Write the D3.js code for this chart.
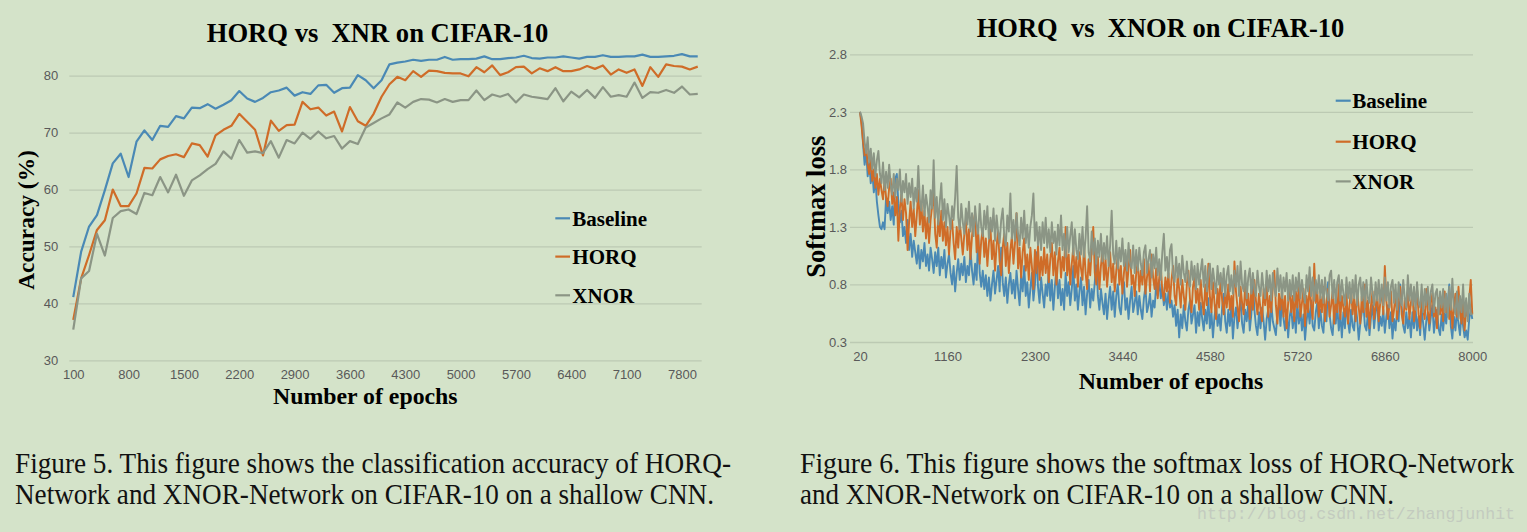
<!DOCTYPE html>
<html><head><meta charset="utf-8">
<script src="https://cdn.jsdelivr.net/npm/d3@7"></script>
<style>
html,body{margin:0;padding:0;background:#d4e3c9;}
svg{display:block;}
</style></head><body>
<svg id="c" width="1527" height="532"></svg>
<script>
// ---------- Figure 5 data (accuracy) ----------
const accEpochs = d3.range(100, 8001, 100);
const accBaseline = [41.1,49.1,53.5,55.5,59.9,64.6,66.3,62.2,68.4,70.4,
68.7,71.2,71.0,72.9,72.5,74.4,74.3,75.0,74.2,74.9,
75.7,77.3,76.0,75.4,76.1,77.1,77.4,77.9,76.5,77.1,
76.8,78.3,78.4,77.0,77.8,77.9,80.1,79.2,77.8,79.2,
82.0,82.3,82.5,82.8,82.6,82.8,82.8,83.3,82.8,82.9,
82.9,83.0,83.4,82.9,82.9,83.1,83.2,83.5,83.1,83.0,
83.2,83.2,83.4,83.2,83.0,83.3,83.3,83.6,83.3,83.3,
83.4,83.4,83.7,83.3,83.3,83.4,83.5,83.8,83.4,83.4];
const accHORQ = [37.1,44.4,48.5,52.9,54.6,60.0,57.1,57.1,59.3,63.8,
63.7,65.3,65.9,66.2,65.7,68.1,67.8,65.8,69.5,70.5,
71.2,73.3,71.9,70.5,66.0,72.1,70.3,71.3,71.4,75.4,
74.1,74.4,73.0,73.7,70.2,74.5,72.0,71.2,73.3,76.3,
78.5,79.8,79.2,80.8,79.8,80.9,80.8,80.5,80.4,80.4,
79.9,81.5,80.6,81.8,80.1,80.6,81.5,81.6,80.4,81.3,
80.8,81.5,80.8,80.8,81.1,81.7,81.2,81.8,80.2,81.1,
80.5,81.1,78.2,81.5,79.8,82.0,81.7,81.6,81.1,81.6];
const accXNOR = [35.4,44.4,45.7,52.2,48.4,55.0,56.2,56.5,55.7,59.4,
59.0,62.2,59.5,62.6,58.9,61.6,62.5,63.6,64.5,66.7,
65.4,68.7,66.5,66.7,66.4,68.5,65.6,68.7,68.1,70.0,
68.9,70.2,69.0,69.4,67.2,68.5,68.0,70.9,71.7,72.5,
73.2,75.3,74.4,75.4,75.9,75.8,75.3,75.9,75.4,75.7,
75.7,77.4,75.7,76.7,76.3,76.8,75.3,76.7,76.3,76.1,
75.9,77.8,75.5,77.2,76.2,77.5,76.1,78.0,76.3,76.6,
76.3,78.8,76.1,77.1,77.0,77.5,77.0,78.1,76.7,76.8];
const accTicksX = [100,800,1500,2200,2900,3600,4300,5000,5700,6400,7100,7800];
const accTicksY = [30,40,50,60,70,80];

// ---------- Figure 6 data (softmax loss) ----------
const lossEpochs = d3.range(20, 8001, 20);
const lossBaseline = [
2.30,2.22,2.02,1.84,1.96,1.74,1.86,1.68,1.78,1.60,1.72,1.52,1.40,1.30,1.28,1.34,1.28,1.56,1.42,1.52,
1.36,1.48,1.32,1.72,1.76,1.50,1.34,1.44,1.22,1.30,1.16,1.36,1.10,1.24,1.04,1.18,1.08,0.98,1.14,0.94,
1.10,1.00,1.16,0.96,1.06,0.92,1.12,1.02,0.90,1.08,0.96,1.12,0.88,1.04,0.94,1.10,0.86,0.98,1.06,0.90,
0.80,0.96,0.74,0.90,1.02,0.84,0.98,0.88,1.04,0.82,0.96,0.88,1.10,0.92,0.80,0.98,0.84,1.24,0.90,0.78,
0.92,0.76,0.88,0.70,0.86,0.66,0.80,0.92,0.72,0.84,0.96,0.74,1.12,0.82,0.70,0.86,0.64,0.80,0.90,0.72,
0.84,0.68,0.92,0.76,0.62,0.88,0.74,0.96,0.70,0.82,0.60,0.76,0.90,0.66,0.80,1.08,0.78,0.64,0.86,0.72,
0.60,0.80,0.70,0.92,0.66,0.84,0.58,0.78,0.94,0.68,0.84,0.62,0.76,0.58,0.90,0.70,0.82,0.62,0.76,0.96,
0.66,0.80,0.58,0.74,0.86,0.62,0.78,0.54,0.72,0.84,0.60,0.76,0.66,0.82,1.04,0.70,0.58,0.76,0.64,0.54,
0.72,0.50,0.66,0.78,0.58,0.74,0.52,0.70,0.80,0.60,0.54,0.72,0.82,0.58,0.68,0.50,0.66,0.78,0.56,0.64,
0.74,0.54,0.70,0.58,0.50,0.68,0.78,0.56,0.62,0.72,0.52,0.66,0.60,0.80,0.70,0.84,0.68,0.78,0.62,0.72,
0.58,0.74,0.60,0.66,0.52,0.62,0.44,0.58,0.34,0.54,0.42,0.62,0.48,0.40,0.58,0.66,0.46,0.54,0.62,0.38,
0.56,0.44,0.64,0.50,0.40,0.58,0.46,0.68,0.42,0.56,0.34,0.52,0.62,0.44,0.54,0.40,0.60,0.72,0.48,0.38,
0.58,0.44,0.62,0.33,0.52,0.60,0.42,0.56,0.66,0.46,0.38,0.58,0.48,0.64,0.40,0.54,0.82,0.58,0.44,0.36,
0.56,0.42,0.60,0.48,0.32,0.50,0.58,0.40,0.64,0.48,0.42,0.36,0.56,0.62,0.44,0.68,0.50,0.40,0.58,0.34,
0.52,0.60,0.42,0.56,0.38,0.64,0.46,0.58,0.40,0.54,0.32,0.48,0.60,0.46,0.66,0.44,0.40,0.56,0.64,0.42,
0.58,0.44,0.38,0.62,0.48,0.82,0.54,0.42,0.36,0.58,0.46,0.62,0.40,0.54,0.34,0.56,0.42,0.64,0.48,0.38,
0.58,0.44,0.40,0.62,0.50,0.32,0.46,0.56,0.64,0.44,0.40,0.56,0.36,0.52,0.62,0.42,0.56,0.68,0.40,0.52,
0.44,0.58,0.38,0.52,0.62,0.42,0.56,0.33,0.50,0.40,0.58,0.48,0.80,0.60,0.44,0.38,0.56,0.42,0.52,0.34,
0.56,0.42,0.60,0.40,0.52,0.36,0.58,0.46,0.32,0.48,0.56,0.40,0.52,0.62,0.38,0.50,0.58,0.42,0.36,0.54,
0.40,0.56,0.46,0.64,0.80,0.44,0.33,0.52,0.40,0.58,0.46,0.36,0.56,0.44,0.34,0.40,0.32,0.50,0.58,0.50];
const lossHORQ = [
2.30,2.18,2.04,1.92,2.00,1.84,1.76,1.90,1.70,1.80,1.64,1.76,1.58,1.72,1.62,1.54,1.70,1.56,1.48,1.64,
1.72,1.50,1.60,1.40,1.56,1.18,1.46,1.58,1.36,1.54,1.42,1.10,1.34,1.52,1.30,1.46,1.22,1.40,1.62,1.32,
1.50,1.26,1.44,1.20,1.38,1.16,1.36,1.48,1.60,1.24,1.12,1.38,1.22,1.44,1.18,1.34,1.14,1.30,1.06,1.28,
1.36,1.16,1.02,1.30,1.12,1.34,1.20,1.06,1.24,1.36,1.10,1.28,1.02,1.22,1.34,1.42,1.08,1.24,0.98,1.18,
1.28,1.04,1.20,0.96,1.16,1.30,1.02,1.18,0.92,1.14,1.26,1.00,0.88,1.12,1.24,0.96,1.16,0.90,1.10,1.22,
0.98,1.16,1.42,0.94,1.12,0.86,1.08,1.20,0.92,1.06,0.84,1.12,0.96,0.76,1.10,0.90,1.14,0.84,1.04,0.88,
1.12,0.90,1.06,0.82,1.02,1.16,0.88,1.08,0.80,1.00,1.12,0.86,1.04,0.92,1.30,0.88,1.06,0.80,0.98,1.12,
0.86,1.04,0.78,1.08,0.94,0.84,1.14,0.90,0.76,1.02,0.88,1.10,1.30,0.90,0.80,1.04,0.76,0.96,1.10,0.84,
1.02,0.78,0.94,1.08,0.82,0.98,0.74,0.92,1.06,0.80,0.96,0.72,0.90,1.04,0.78,0.94,1.10,0.80,0.88,0.70,
0.90,1.00,0.74,0.92,0.80,1.02,0.72,0.86,0.98,0.74,1.06,0.86,0.76,0.94,0.68,0.86,0.96,0.74,0.66,0.86,
0.74,0.90,0.64,0.84,0.96,0.70,0.62,0.88,0.76,0.60,0.84,0.70,0.58,0.80,0.92,0.68,0.56,0.78,0.86,0.64,
0.76,0.58,0.84,0.66,0.54,0.80,0.62,0.98,0.70,0.56,0.82,0.64,0.50,0.76,0.60,0.86,0.66,0.54,0.74,0.60,
0.80,0.58,0.70,0.52,1.00,0.74,0.60,0.48,0.78,0.64,0.54,0.80,0.62,0.72,0.50,0.76,0.58,0.84,0.66,0.54,
0.72,0.58,0.48,0.76,0.62,0.82,0.52,0.70,0.56,0.78,0.92,0.62,0.46,0.72,0.58,0.76,0.52,0.70,0.42,0.64,
0.78,0.56,0.70,0.48,0.74,0.60,0.82,0.52,0.64,0.76,0.44,0.70,0.56,0.80,0.62,0.50,0.98,0.64,0.74,0.52,
0.70,0.56,0.78,0.48,0.66,0.76,0.52,0.62,0.74,0.46,0.68,0.56,0.80,0.50,0.70,0.60,0.52,0.74,0.46,0.62,
0.76,0.54,0.68,0.48,0.74,0.60,0.46,0.70,0.56,0.80,0.52,0.66,0.42,0.62,0.74,0.50,0.60,0.72,0.48,0.64,
0.76,0.54,0.96,0.66,0.50,0.62,0.74,0.48,0.58,0.72,0.50,0.64,0.78,0.54,0.46,0.68,0.58,0.74,0.50,0.64,
0.72,0.48,0.60,0.76,0.54,0.42,0.68,0.58,0.50,0.76,0.56,0.46,0.64,0.72,0.52,0.60,0.42,0.68,0.54,0.66,
0.48,0.74,0.56,0.64,0.50,0.70,0.42,0.60,0.72,0.52,0.78,0.56,0.46,0.66,0.40,0.60,0.52,0.68,0.84,0.54];
const lossXNOR = [
2.30,2.26,2.20,2.04,1.94,2.08,1.86,1.98,1.80,1.94,1.74,1.88,1.96,1.76,1.68,1.86,1.62,1.78,1.64,1.84,
1.66,1.58,1.76,1.56,1.72,1.62,1.80,1.52,1.70,1.60,1.76,1.50,1.68,1.56,1.72,1.46,1.64,1.52,1.83,1.54,
1.44,1.66,1.40,1.58,1.48,1.34,1.62,1.46,1.88,1.38,1.56,1.32,1.52,1.68,1.36,1.54,1.30,1.50,1.40,1.28,
1.48,1.36,1.56,1.83,1.38,1.28,1.50,1.34,1.24,1.46,1.32,1.52,1.26,1.42,1.22,1.48,1.32,1.24,1.50,1.30,
1.22,1.44,1.28,1.48,1.20,1.38,1.26,1.46,1.18,1.40,1.26,1.16,1.36,1.46,1.22,1.14,1.40,1.26,1.59,1.20,
1.36,1.18,1.42,1.24,1.14,1.38,1.20,1.44,1.16,1.32,1.12,1.30,1.40,1.59,1.18,1.34,1.14,1.30,1.10,1.34,
1.16,1.38,1.12,1.28,1.08,1.34,1.16,1.26,1.06,1.32,1.14,1.40,1.10,1.24,1.04,1.30,1.08,1.22,1.34,1.06,
1.28,1.10,1.02,1.24,1.06,1.30,1.04,1.20,1.48,1.08,1.00,1.26,1.06,1.20,0.98,1.18,1.04,1.24,1.00,1.16,
1.02,1.22,0.96,1.14,1.44,1.06,0.98,1.18,0.94,1.12,1.00,1.20,0.96,1.10,0.92,1.16,0.98,0.94,1.14,0.90,
1.10,0.92,1.12,0.98,0.88,1.08,1.14,0.90,1.02,1.10,0.86,1.06,0.94,1.12,0.88,1.02,0.84,1.08,1.24,0.92,
1.04,0.86,1.10,1.15,0.88,0.82,1.04,0.86,0.98,0.80,1.05,0.90,0.82,1.00,0.84,0.78,1.00,0.84,0.96,0.76,
0.98,0.80,0.92,1.02,0.78,0.96,0.74,0.90,0.98,0.76,0.94,0.82,0.72,0.96,0.80,0.90,0.74,0.94,0.70,0.88,
0.96,0.74,0.88,0.72,0.92,0.78,0.96,0.70,1.00,0.80,0.74,0.92,0.68,0.86,0.94,0.72,0.90,0.76,0.70,0.92,
0.78,0.70,0.90,0.76,0.68,0.92,0.74,0.88,0.66,0.90,0.76,0.70,0.94,0.74,0.88,0.68,0.86,0.74,0.90,0.66,
0.84,0.70,0.88,0.66,0.86,0.74,0.90,0.68,0.84,0.72,0.64,0.88,0.74,0.95,0.70,0.86,0.66,0.84,0.72,0.88,
0.68,0.84,0.64,0.86,0.72,0.66,0.88,0.92,0.68,0.84,0.64,0.82,0.88,0.66,0.84,0.72,0.62,0.86,0.68,0.82,
0.64,0.84,0.68,0.88,0.62,0.80,0.86,0.66,0.82,0.60,0.84,0.68,0.64,0.86,0.72,0.62,0.82,0.66,0.84,0.64,
0.80,0.62,0.86,0.66,0.82,0.60,0.78,0.84,0.64,0.80,0.58,0.82,0.66,0.62,0.84,0.68,0.60,0.88,0.66,0.80,
0.62,0.78,0.58,0.82,0.64,0.60,0.80,0.56,0.76,0.62,0.78,0.58,0.74,0.80,0.56,0.72,0.76,0.54,0.74,0.60,
0.76,0.56,0.72,0.52,0.78,0.58,0.85,0.60,0.54,0.74,0.50,0.70,0.56,0.80,0.52,0.68,0.48,0.72,0.54,0.55];
const lossTicksX = [20,1160,2300,3440,4580,5720,6860,8000];
const lossTicksY = [0.3,0.8,1.3,1.8,2.3,2.8];

const seriesNames = ["Baseline","HORQ","XNOR"];
const seriesColors = ["#4a89b5","#cf6c28","#8b9585"];

// ---------- drawing ----------
const BG = "#d4e3c9", GRID = "#bccab3", TICK = "#595959";
const svg = d3.select("#c");
svg.append("rect").attr("width",1527).attr("height",532).attr("fill",BG);

function styleTicks(g){
  g.select(".domain").remove();
  g.selectAll("text").attr("fill",TICK).attr("font-family","'Liberation Sans', Arial, sans-serif").attr("font-size",13);
}
function grid(g){
  g.select(".domain").remove();
  g.selectAll("line").attr("stroke",GRID).attr("stroke-width",1.3);
}
const serif = "'Liberation Serif', 'Times New Roman', serif";

// ----- Figure 5 -----
const xA = d3.scalePoint().domain(accEpochs).range([69.3,701.7]).padding(0.5);
const yA = d3.scaleLinear().domain([30,80]).range([360.3,75.7]);
svg.append("g").attr("transform","translate(69.3,0)")
  .call(d3.axisLeft(yA).tickValues(accTicksY).tickSize(-(701.7-69.3)).tickFormat(""))
  .call(grid);
svg.append("g").attr("transform","translate(69.3,0)")
  .call(d3.axisLeft(yA).tickValues(accTicksY).tickSize(0).tickPadding(11))
  .call(styleTicks);
svg.append("g").attr("transform","translate(0,360.3)")
  .call(d3.axisBottom(xA).tickValues(accTicksX).tickSize(0).tickPadding(9.5))
  .call(styleTicks);

[accBaseline, accHORQ, accXNOR].forEach((s,k)=>{
  svg.append("path").datum(s)
    .attr("fill","none").attr("stroke",seriesColors[k]).attr("stroke-width",2.2)
    .attr("stroke-linejoin","round")
    .attr("d", d3.line().x((d,i)=>xA(accEpochs[i])).y(d=>yA(d)));
});

svg.append("text").attr("x",377.5).attr("y",42.3).attr("text-anchor","middle")
  .attr("font-family",serif).attr("font-weight","bold").attr("font-size",26.6)
  .attr("xml:space","preserve").style("white-space","pre")
  .text("HORQ vs  XNR on CIFAR-10");
svg.append("text").attr("transform","translate(33.8,220) rotate(-90)").attr("text-anchor","middle")
  .attr("font-family",serif).attr("font-weight","bold").attr("font-size",23.4)
  .text("Accuracy (%)");
svg.append("text").attr("x",365.3).attr("y",404).attr("text-anchor","middle")
  .attr("font-family",serif).attr("font-weight","bold").attr("font-size",23.8)
  .text("Number of epochs");

const legA = [226,264.3,303];
seriesNames.forEach((n,k)=>{
  svg.append("line").attr("x1",555.3).attr("x2",570).attr("y1",legA[k]-7.7).attr("y2",legA[k]-7.7)
    .attr("stroke",seriesColors[k]).attr("stroke-width",2.2);
  svg.append("text").attr("x",572.3).attr("y",legA[k])
    .attr("font-family",serif).attr("font-weight","bold").attr("font-size",21).text(n);
});

// ----- Figure 6 -----
const xL = d3.scaleLinear().domain([20,8000]).range([860,1472.3]);
const yL = d3.scaleLinear().domain([0.3,2.8]).range([342,54.3]);
svg.append("g").attr("transform","translate(850,0)")
  .call(d3.axisLeft(yL).tickValues(lossTicksY).tickSize(-(1473-850)).tickFormat(""))
  .call(grid);
svg.append("g").attr("transform","translate(850,0)")
  .call(d3.axisLeft(yL).tickValues(lossTicksY).tickSize(0).tickPadding(3).tickFormat(d3.format(".1f")))
  .call(styleTicks);
svg.append("g").attr("transform","translate(0,342)")
  .call(d3.axisBottom(xL).tickValues(lossTicksX).tickSize(0).tickPadding(9.8).tickFormat(d3.format("d")))
  .call(styleTicks);

[lossBaseline, lossHORQ, lossXNOR].forEach((s,k)=>{
  svg.append("path").datum(s)
    .attr("fill","none").attr("stroke",seriesColors[k]).attr("stroke-width",1.9)
    .attr("stroke-linejoin","round")
    .attr("d", d3.line().x((d,i)=>xL(lossEpochs[i])).y(d=>yL(d)));
});

svg.append("text").attr("x",1160.5).attr("y",36.7).attr("text-anchor","middle")
  .attr("font-family",serif).attr("font-weight","bold").attr("font-size",26.5)
  .attr("xml:space","preserve").style("white-space","pre")
  .text("HORQ  vs  XNOR on CIFAR-10");
svg.append("text").attr("transform","translate(825,206.7) rotate(-90)").attr("text-anchor","middle")
  .attr("font-family",serif).attr("font-weight","bold").attr("font-size",26.5)
  .text("Softmax loss");
svg.append("text").attr("x",1171).attr("y",389).attr("text-anchor","middle")
  .attr("font-family",serif).attr("font-weight","bold").attr("font-size",23.8)
  .text("Number of epochs");

const legL = [108.3,149.3,189];
seriesNames.forEach((n,k)=>{
  svg.append("line").attr("x1",1335.7).attr("x2",1350.7).attr("y1",legL[k]-7.6).attr("y2",legL[k]-7.6)
    .attr("stroke",seriesColors[k]).attr("stroke-width",2.2);
  svg.append("text").attr("x",1352.3).attr("y",legL[k])
    .attr("font-family",serif).attr("font-weight","bold").attr("font-size",21).text(n);
});

// ----- captions -----
function caption(x,y,w,t){
  svg.append("g").attr("transform",`translate(${x},${y}) scale(1,1.1)`)
    .append("text").attr("x",0).attr("y",0).attr("font-family",serif).attr("font-size",26.5)
    .attr("fill","#111").attr("textLength",w).attr("lengthAdjust","spacingAndGlyphs").text(t);
}
caption(15,473.3,716,"Figure 5. This figure shows the classification accuracy of HORQ-");
caption(15,504.3,699,"Network and XNOR-Network on CIFAR-10 on a shallow CNN.");
caption(800,473.3,714,"Figure 6. This figure shows the softmax loss of HORQ-Network");
caption(800,504.3,594,"and XNOR-Network on CIFAR-10 on a shallow CNN.");
svg.append("text").attr("x",1197).attr("y",519).attr("font-family","'Liberation Mono', monospace")
  .attr("font-size",17).attr("fill","#c3cbbf").attr("textLength",318).attr("lengthAdjust","spacingAndGlyphs")
  .text("http://blog.csdn.net/zhangjunhit");
</script>
</body></html>
